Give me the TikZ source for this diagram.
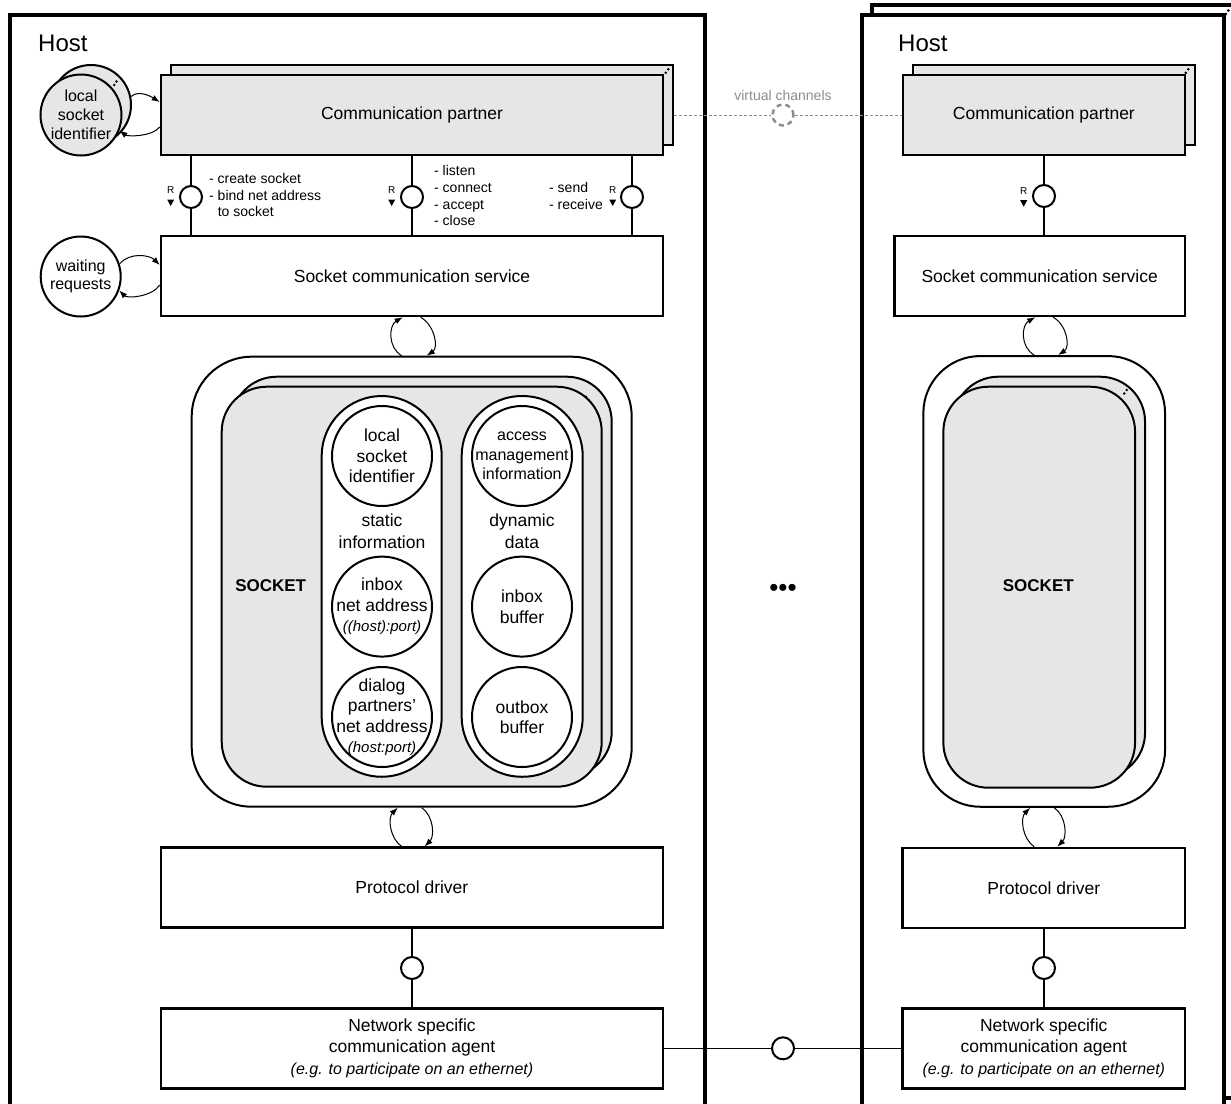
\documentclass[tikz,border=0pt]{standalone}
\usepackage{fontspec}
\setmainfont{Liberation Sans}
\usetikzlibrary{arrows.meta,calc}
\definecolor{gfill}{HTML}{E6E6E6}
\definecolor{vgray}{HTML}{8C8C8C}
\newcommand\myfs[2]{\fontsize{#1}{#2}\selectfont}
\begin{document}
\begin{tikzpicture}[x=1pt,y=-1pt,
  hostframe/.style={draw, line width=3.2pt, fill=white, inner sep=0pt},
  box/.style={draw, line width=2.5pt, fill=white, inner sep=0pt, align=center, font=\myfs{17.5}{21.5}},
  gbox/.style={box, fill=gfill},
  lolli/.style={circle, draw, line width=2pt, fill=white, minimum size=22pt, inner sep=0pt},
  stem/.style={line width=1.3pt},
  cyc/.style={line width=1pt, -{Latex[length=8pt,width=6pt]}},
  info/.style={circle, draw, line width=2pt, fill=white, minimum size=100pt, inner sep=-14pt, align=center, font=\myfs{17.5}{20.5}},
  pill/.style={draw, line width=2pt, fill=white, rounded corners=60pt, minimum width=120pt, minimum height=380.7pt, inner sep=0pt},
  sockout/.style={draw, line width=2pt, fill=white, inner sep=0pt},
  sockin/.style={draw, line width=2pt, fill=gfill, rounded corners=45pt, inner sep=0pt},
  txt/.style={inner sep=0pt, align=center},
  lbl/.style={inner sep=0pt, align=left, anchor=west, font=\myfs{14}{16.7}},
  rlbl/.style={inner sep=0pt, font=\myfs{10}{10}},
  vline/.style={vgray, line width=1pt, dash pattern=on 3pt off 2pt},
]
\useasboundingbox (0,0) rectangle (1231,1103);
\clip (0,0) rectangle (1231,1103);

% ---------------- host frames ----------------
\node[hostframe, minimum width=695pt, minimum height=1093pt] (hostL) at (357.5,561.5) {};
\node[hostframe, minimum width=362pt, minimum height=1093pt] (hostRb) at (1053,551.5) {};
\node[hostframe, minimum width=362pt, minimum height=1093pt] (hostR) at (1043,561.5) {};
\fill (1228.3,10.5) circle (1.5pt) (1225.8,14) circle (1.5pt);

\node[txt, anchor=west, font=\myfs{24}{28}] (hostLlbl) at (38,43) {Host};
\node[txt, anchor=west, font=\myfs{24}{28}] (hostRlbl) at (898,43) {Host};

% ---------------- left host ----------------
\node[gbox, minimum width=502pt, minimum height=80pt] (cpLb) at (422,105) {};
\node[gbox, minimum width=502pt, minimum height=80pt] (cpL) at (412,115) {Communication partner};
\fill (668.3,69.3) circle (1.4pt) (665.7,72.8) circle (1.4pt);

\node[circle, draw, line width=2pt, fill=gfill, minimum size=80pt, inner sep=0pt] (lsiB) at (91,105) {};
\fill (116.5,81.5) circle (1.4pt) (114.3,85) circle (1.4pt);
\node[circle, draw, line width=2pt, fill=gfill, minimum size=81pt, inner sep=-10pt, align=center, font=\myfs{16}{19}] (lsi) at (81,115) {local\\socket\\identifier};
\draw[cyc] (lsiB.12) .. controls +(8,-7) and +(-8,-5) .. ($(cpL.west)+(0,-13)$);
\draw[cyc] ($(cpL.west)+(0,12)$) .. controls +(-8,10) and +(8,6) .. (lsi.-22);

\node[box, minimum width=502pt, minimum height=80pt] (svcL) at (412,276) {Socket communication service};

\node[circle, draw, line width=2pt, fill=white, minimum size=80pt, inner sep=-10pt, align=center, font=\myfs{16}{18.7}] (wr) at (80.7,276.5) {waiting\\requests};
\draw[cyc] (wr.18) .. controls +(10,-12) and +(-10,-10) .. ($(svcL.west)+(0,-11)$);
\draw[cyc] ($(svcL.west)+(0,9)$) .. controls +(-8,12) and +(8,8) .. (wr.-20);

% interfaces
\node[lolli] (lp1) at (191,197) {};
\node[lolli] (lp2) at (412,197) {};
\node[lolli] (lp3) at (632,197) {};
\foreach \l in {lp1,lp2,lp3}{
  \draw[stem] (\l |- cpL.south) -- (\l.north) (\l.south) -- (\l |- svcL.north);
}
\node[rlbl] (r1) at (170.7,190) {R};
\node[rlbl] (r2) at (391.7,190) {R};
\node[rlbl] (r3) at (612.7,190) {R};
\foreach \r in {r1,r2,r3}{
  \fill ($(\r)+(-3.5,9.5)$) -- ++(7,0) -- ++(-3.5,6.5) -- cycle;
}
\node[lbl] (ops1) at (209,195) {- create socket\\- bind net address\\\phantom{- }to socket};
\node[lbl] (ops2) at (434,195.7) {- listen\\- connect\\- accept\\- close};
\node[lbl] (ops3) at (549,195.7) {- send\\- receive};

% socket (left)
\node[sockout, rounded corners=60pt, minimum width=440pt, minimum height=450pt] (sockOutL) at (411.7,581.7) {};
\node[sockin, minimum width=380pt, minimum height=400pt] (sockBL) at (421.7,576.7) {};
\fill (586,396.7) circle (1.4pt) (583.7,400.2) circle (1.4pt);
\node[sockin, minimum width=380pt, minimum height=400pt] (sockFL) at (411.7,586.7) {};
\node[txt, font=\bfseries\myfs{17}{20}] (sockLblL) at (270.7,586) {SOCKET};

\node[pill] (pillS) at (381.7,586.4) {};
\node[pill, minimum width=121pt] (pillD) at (522.2,586.4) {};
\node[txt, font=\myfs{17.5}{21.7}] (statL) at (382,531) {static\\information};
\node[txt, font=\myfs{17.5}{21.7}] (dynL) at (522,531) {dynamic\\data};

\node[info] (ci1) at (382,456) {local\\socket\\identifier};
\node[info] (ci2) at (382,606.6) {inbox\\net address\\{\itshape\myfs{15}{20.5}((host):port)}};
\node[info] (ci3) at (382,717) {dialog\\partners'\\net address\\{\itshape\myfs{15}{20.5}(host:port)}};
\node[info, font=\myfs{16}{19.3}] (ci4) at (522,456) {access\\management\\information};
\node[info] (ci5) at (522,606.6) {inbox\\buffer};
\node[info] (ci6) at (522,717) {outbox\\buffer};

\draw[cyc] ([xshift=-10pt]sockOutL.north) .. controls +(-14,-8) and +(-14,8) .. ([xshift=-9pt]sockOutL.north |- svcL.south);
\draw[cyc] ([xshift=9pt]sockOutL.north |- svcL.south) .. controls +(14,8) and +(12,-8) .. ([xshift=15pt]sockOutL.north);

\node[box, minimum width=502.3pt, minimum height=80pt] (pdL) at (411.9,887.7) {Protocol driver};
\draw[cyc] ([xshift=-10pt]sockOutL.south |- pdL.north) .. controls +(-12,-8) and +(-10,10) .. ([xshift=-14pt]sockOutL.south);
\draw[cyc] ([xshift=10pt]sockOutL.south) .. controls +(12,8) and +(10,-10) .. ([xshift=13pt]sockOutL.south |- pdL.north);

\node[lolli] (lpL2) at (412,968) {};
\node[box, minimum width=502pt, minimum height=80pt] (nscaL) at (412,1048.3) {Network specific\\communication agent\\{\itshape\myfs{16}{19}(e.g. to participate on an ethernet)}};
\draw[stem] (lpL2 |- pdL.south) -- (lpL2.north) (lpL2.south) -- (lpL2 |- nscaL.north);

% ---------------- right host ----------------
\node[gbox, minimum width=282.3pt, minimum height=80pt] (cpRb) at (1053.9,105) {};
\node[gbox, minimum width=282.3pt, minimum height=80pt] (cpR) at (1043.9,115) {Communication partner};
\fill (1188.3,69.3) circle (1.4pt) (1185.8,72.8) circle (1.4pt);

\node[box, minimum width=290.7pt, minimum height=80pt] (svcR) at (1039.7,276) {Socket communication service};
\node[lolli] (lpR1) at (1044,196) {};
\draw[stem] (lpR1 |- cpR.south) -- (lpR1.north) (lpR1.south) -- (lpR1 |- svcR.north);
\node[rlbl] (r4) at (1023.7,190.7) {R};
\fill ($(r4)+(-3.5,9.5)$) -- ++(7,0) -- ++(-3.5,6.5) -- cycle;

\node[sockout, rounded corners=57pt, minimum width=241.7pt, minimum height=450.7pt] (sockOutR) at (1044.2,581.4) {};
\node[sockin, minimum width=191.7pt, minimum height=401pt] (sockBR) at (1049.2,577.2) {};
\fill (1126.7,390) circle (1.4pt) (1124.3,393.5) circle (1.4pt);
\node[sockin, minimum width=191.7pt, minimum height=401pt] (sockFR) at (1039.2,587.2) {};
\node[txt, font=\bfseries\myfs{17}{20}] (sockLblR) at (1038.3,586) {SOCKET};

\draw[cyc] ([xshift=-10pt]sockOutR.north) .. controls +(-14,-8) and +(-14,8) .. ([xshift=-9pt]sockOutR.north |- svcR.south);
\draw[cyc] ([xshift=9pt]sockOutR.north |- svcR.south) .. controls +(14,8) and +(12,-8) .. ([xshift=14pt]sockOutR.north);

\node[box, minimum width=282.5pt, minimum height=80pt] (pdR) at (1043.8,888) {Protocol driver};
\draw[cyc] ([xshift=-10pt]sockOutR.south |- pdR.north) .. controls +(-12,-8) and +(-10,10) .. ([xshift=-14pt]sockOutR.south);
\draw[cyc] ([xshift=10pt]sockOutR.south) .. controls +(12,8) and +(10,-10) .. ([xshift=13pt]sockOutR.south |- pdR.north);

\node[lolli] (lpR2) at (1044,968) {};
\node[box, minimum width=282.5pt, minimum height=80pt] (nscaR) at (1043.8,1048.3) {Network specific\\communication agent\\{\itshape\myfs{16}{19}(e.g. to participate on an ethernet)}};
\draw[stem] (lpR2 |- pdR.south) -- (lpR2.north) (lpR2.south) -- (lpR2 |- nscaR.north);

% ---------------- between hosts ----------------
\node[lolli] (lpNet) at (783,1048.3) {};
\draw[stem] (nscaL.east) -- (lpNet.west) (lpNet.east) -- (nscaR.west);

\node[circle, draw=vgray, line width=2.5pt, dash pattern=on 5pt off 4pt, minimum size=21pt, inner sep=0pt] (vc) at (783,115) {};
\node[txt, text=vgray, font=\myfs{14}{16}] (vclbl) at (783,95) {virtual channels};
\draw[vline] (cpLb.east |- cpL.east) -- (vc.west);
\draw[vline] (vc.east) -- (cpR.west);

\node[txt, anchor=base, font=\myfs{26}{28}] (ellip) at (783,596) {•••};
\end{tikzpicture}
\end{document}
